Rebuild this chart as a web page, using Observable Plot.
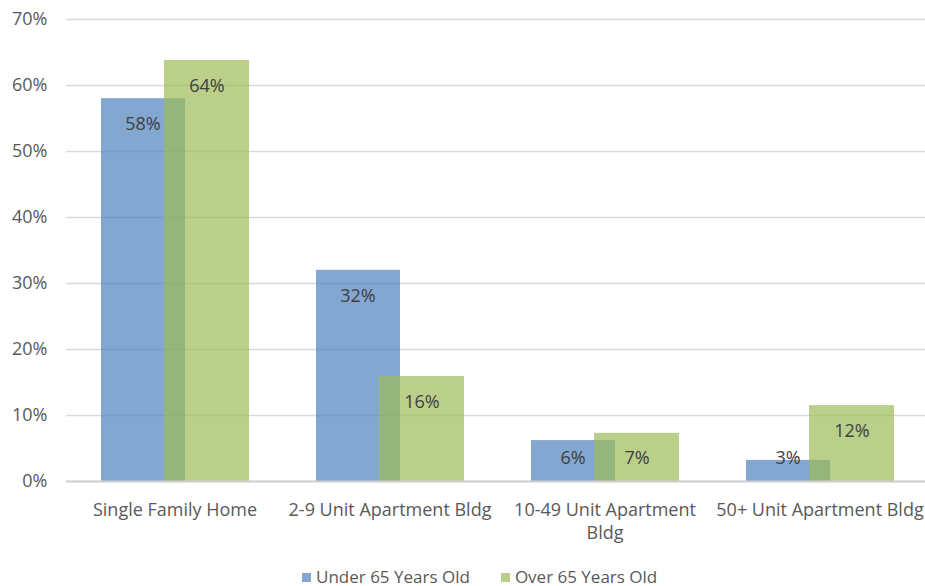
<!DOCTYPE html>
<html>
<head>
<meta charset="utf-8">
<script src="https://cdn.jsdelivr.net/npm/d3@7"></script>
<script src="https://cdn.jsdelivr.net/npm/@observablehq/plot@0.6"></script>
<style>
  html, body { margin: 0; padding: 0; background: #fff; }
  body { width: 925px; height: 586px; overflow: hidden; font-family: "Open Sans", Lato, sans-serif; }
  #chart svg { display: block; }
  #legend { margin-top: 6px; height: 22px; line-height: 22px; font-size: 17px; color: #595959; white-space: nowrap; padding-left: 302px; }
  #legend .item { display: inline-block; margin-right: 31px; }
  #legend .sw { display: inline-block; width: 9px; height: 9px; margin-right: 5px; vertical-align: 1px; }
</style>
</head>
<body>
<div id="chart"></div>
<div id="legend"></div>
<script>
const categories = ["Single Family Home", "2-9 Unit Apartment Bldg", "10-49 Unit Apartment Bldg", "50+ Unit Apartment Bldg"];
const xTickLabels = ["Single Family Home", "2-9 Unit Apartment Bldg", "10-49 Unit Apartment\nBldg", "50+ Unit Apartment Bldg"];
const seriesNames = ["Under 65 Years Old", "Over 65 Years Old"];
const under65 = [0.58, 0.32, 0.062, 0.032];
const over65 = [0.638, 0.159, 0.073, 0.115];
const under65Labels = ["58%", "32%", "6%", "3%"];
const over65Labels = ["64%", "16%", "7%", "12%"];
const yTicks = [0, 0.1, 0.2, 0.3, 0.4, 0.5, 0.6, 0.7];
const colors = ["#4F81BD", "#9BBB59"];

const dataU = categories.map((c, i) => ({cat: c, v: under65[i], label: under65Labels[i]}));
const dataO = categories.map((c, i) => ({cat: c, v: over65[i], label: over65Labels[i]}));
const labelY = d => Math.max(d.v - 0.039, 0.035);
const tickMap = new Map(categories.map((c, i) => [c, xTickLabels[i]]));

const chart = Plot.plot({
  width: 925,
  height: 560,
  marginLeft: 66,
  marginRight: 0,
  marginTop: 19,
  marginBottom: 79,
  style: {fontFamily: "'Open Sans', Lato, sans-serif", background: "#fff"},
  x: {domain: categories, padding: 0, range: [66, 927], axis: null},
  y: {domain: [0, 0.7], axis: null},
  marks: [
    Plot.gridY(yTicks, {stroke: "#d9d9d9", strokeOpacity: 1, strokeWidth: 1.5}),
    Plot.barY(dataU, {x: "cat", y: "v", fill: colors[0], fillOpacity: 0.7, insetLeft: 34, insetRight: 97}),
    Plot.barY(dataO, {x: "cat", y: "v", fill: colors[1], fillOpacity: 0.7, insetLeft: 97, insetRight: 33}),
    Plot.ruleY([0], {stroke: "#d0d0d0", strokeWidth: 2}),
    Plot.axisY({ticks: yTicks, tickFormat: d3.format(".0%"), tickSize: 0, tickPadding: 19, fontSize: 18, fill: "#595959", fillOpacity: 1, label: null}),
    Plot.axisX({tickFormat: d => tickMap.get(d), tickSize: 0, tickPadding: 17, fontSize: 18, lineHeight: 1.33, fill: "#595959", fillOpacity: 1, label: null}),
    Plot.text(dataU, {x: "cat", y: labelY, text: "label", dx: -32, fontSize: 18, fill: "#404040"}),
    Plot.text(dataO, {x: "cat", y: labelY, text: "label", dx: 32, fontSize: 18, fill: "#404040"})
  ]
});
document.getElementById("chart").append(chart);

const legend = document.getElementById("legend");
seriesNames.forEach((name, i) => {
  const item = document.createElement("span");
  item.className = "item";
  const sw = document.createElement("span");
  sw.className = "sw";
  sw.style.background = colors[i];
  sw.style.opacity = 0.7;
  item.append(sw, document.createTextNode(name));
  legend.append(item);
});
</script>
</body>
</html>
